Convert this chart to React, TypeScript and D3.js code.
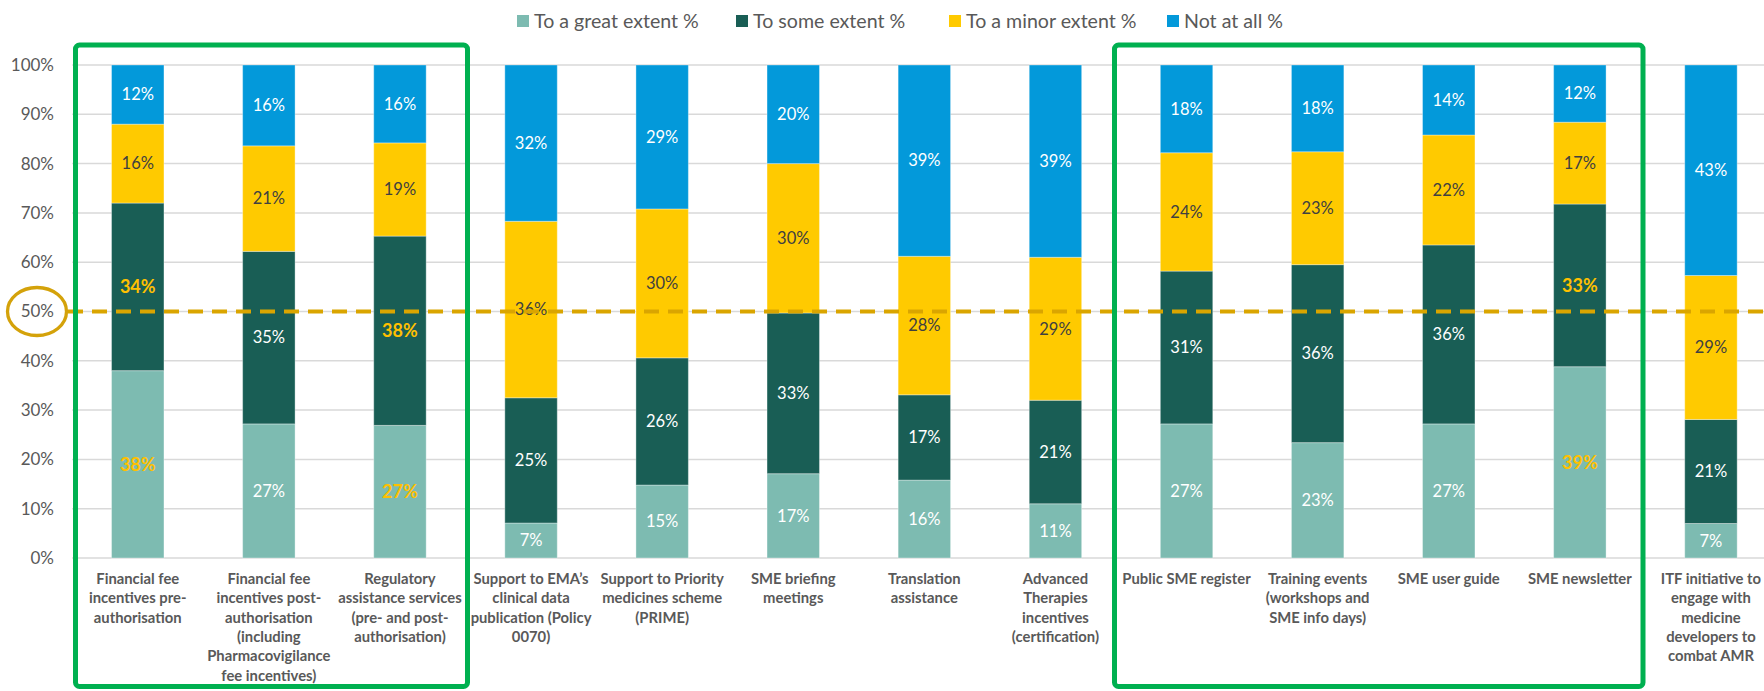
import React from 'react';
import * as d3 from 'd3';

const categories = [
  'Financial fee\nincentives pre-\nauthorisation',
  'Financial fee\nincentives post-\nauthorisation\n(including\nPharmacovigilance\nfee incentives)',
  'Regulatory\nassistance services\n(pre- and post-\nauthorisation)',
  'Support to EMA’s\nclinical data\npublication (Policy\n0070)',
  'Support to Priority\nmedicines scheme\n(PRIME)',
  'SME briefing\nmeetings',
  'Translation\nassistance',
  'Advanced\nTherapies\nincentives\n(certification)',
  'Public SME register',
  'Training events\n(workshops and\nSME info days)',
  'SME user guide',
  'SME newsletter',
  'ITF initiative to\nengage with\nmedicine\ndevelopers to\ncombat AMR',
];

const seriesNames = ['To a great extent %', 'To some extent %', 'To a minor extent %', 'Not at all %'];
const greatExtent = [38, 27.2, 26.9, 7.1, 14.8, 17.1, 15.8, 11, 27.2, 23.4, 27.2, 38.8, 7.0];
const someExtent = [34, 35, 38.4, 25.4, 25.8, 32.6, 17.3, 21, 31.0, 36.1, 36.3, 33.0, 21.1];
const minorExtent = [16, 21.4, 18.9, 35.8, 30.2, 30.3, 28.1, 29, 24.0, 22.9, 22.3, 16.6, 29.2];
const notAtAll = [12, 16.4, 15.8, 31.7, 29.2, 20.0, 38.8, 39, 17.8, 17.6, 14.2, 11.6, 42.7];
const yTicks = [0, 10, 20, 30, 40, 50, 60, 70, 80, 90, 100];
const threshold = 50;
// categories whose "great" and "some" labels are highlighted
const highlightedCategories = [0, 2, 11];
// groups boxed in green: [first index, last index]
const groupBoxes: [number, number][] = [[0, 2], [8, 11]];

const COLORS = ['#7DBBB1', '#195E55', '#FFCA00', '#0399DA'];
const LABEL_COLORS = ['#ffffff', '#ffffff', '#404040', '#ffffff'];
const FONT = 'Lato, "Open Sans", sans-serif';
const W = 1764;
const H = 691;

export default function App() {
  const keys = ['great', 'some', 'minor', 'not'];
  const table = categories.map((c, i) => ({
    cat: c,
    great: greatExtent[i],
    some: someExtent[i],
    minor: minorExtent[i],
    not: notAtAll[i],
  }));
  const stacked = d3.stack<any>().keys(keys)(table);

  const x0 = 72.2;
  const step = 131.1;
  const x = d3
    .scaleBand<string>()
    .domain(categories)
    .range([x0, x0 + step * categories.length])
    .paddingInner(0.6)
    .paddingOuter(0.3);
  const y = d3.scaleLinear().domain([0, 100]).range([558, 65]);

  const legendX = [517, 736, 949, 1167];
  const boxOffsets = [
    [3.3, 2],
    [-6.5, -2.4],
  ];

  return (
    <div style={{ position: 'absolute', left: 0, top: 0, width: W, height: H, overflow: 'hidden', background: '#fff' }}>
      <svg width={W} height={H} style={{ display: 'block', fontFamily: FONT }}>
        {/* gridlines */}
        {yTicks.map((t) => (
          <line key={t} x1={x0} x2={W} y1={y(t)} y2={y(t)} stroke="#D9D9D9" strokeWidth={1.5} />
        ))}
        {/* y tick labels */}
        {yTicks.map((t) => (
          <text key={'l' + t} x={54} y={y(t)} dy="0.35em" textAnchor="end" fontSize={17} fill="#595959">
            {t}%
          </text>
        ))}
        {/* bars */}
        {stacked.map((s, si) => (
          <g key={s.key}>
            {s.map((d, i) => (
              <rect
                key={i}
                x={x(categories[i])}
                width={x.bandwidth()}
                y={y(d[1])}
                height={y(d[0]) - y(d[1])}
                fill={COLORS[si]}
                stroke="rgba(255,255,255,0.35)"
                strokeWidth={1}
              />
            ))}
          </g>
        ))}
        {/* value labels */}
        {stacked.map((s, si) => (
          <g key={'v' + s.key}>
            {s.map((d, i) => {
              const hl = si < 2 && highlightedCategories.includes(i);
              return (
                <text
                  key={i}
                  x={(x(categories[i]) as number) + x.bandwidth() / 2}
                  y={(y(d[0]) + y(d[1])) / 2}
                  dy="0.35em"
                  textAnchor="middle"
                  fontSize={hl ? 18 : 16.5}
                  fontWeight={hl ? 700 : 400}
                  fill={hl ? '#FFC000' : LABEL_COLORS[si]}
                >
                  {Math.round(d[1] - d[0])}%
                </text>
              );
            })}
          </g>
        ))}
        {/* threshold line */}
        <line
          x1={68}
          x2={W}
          y1={y(threshold)}
          y2={y(threshold)}
          stroke="#DAA500"
          strokeWidth={4}
          strokeDasharray="15 9"
        />
        <ellipse cx={37} cy={y(threshold)} rx={29.5} ry={24} fill="none" stroke="#D4A20A" strokeWidth={3.3} />
        {/* category labels */}
        {categories.map((c, i) => (
          <text
            key={'c' + i}
            x={(x(c) as number) + x.bandwidth() / 2}
            y={579}
            textAnchor="middle"
            fontSize={14.8}
            fontWeight={700}
            fill="#595959"
          >
            {c.split('\n').map((ln, li) => (
              <tspan key={li} x={(x(c) as number) + x.bandwidth() / 2} y={579 + li * 19.3} dy="0.35em">
                {ln}
              </tspan>
            ))}
          </text>
        ))}
        {/* group boxes */}
        {groupBoxes.map(([a, b], gi) => {
          const left = x0 + a * step + boxOffsets[gi][0];
          const right = x0 + (b + 1) * step + boxOffsets[gi][1];
          return (
            <rect
              key={'g' + gi}
              x={left}
              y={45}
              width={right - left}
              height={686.5 - 45}
              rx={4}
              fill="none"
              stroke="#00B050"
              strokeWidth={5}
            />
          );
        })}
        {/* legend */}
        {seriesNames.map((n, i) => (
          <g key={'lg' + i}>
            <rect x={legendX[i]} y={15} width={12} height={12} fill={COLORS[i]} />
            <text x={legendX[i] + 17} y={21} dy="0.35em" fontSize={19.6} fill="#595959">
              {n}
            </text>
          </g>
        ))}
      </svg>
    </div>
  );
}
